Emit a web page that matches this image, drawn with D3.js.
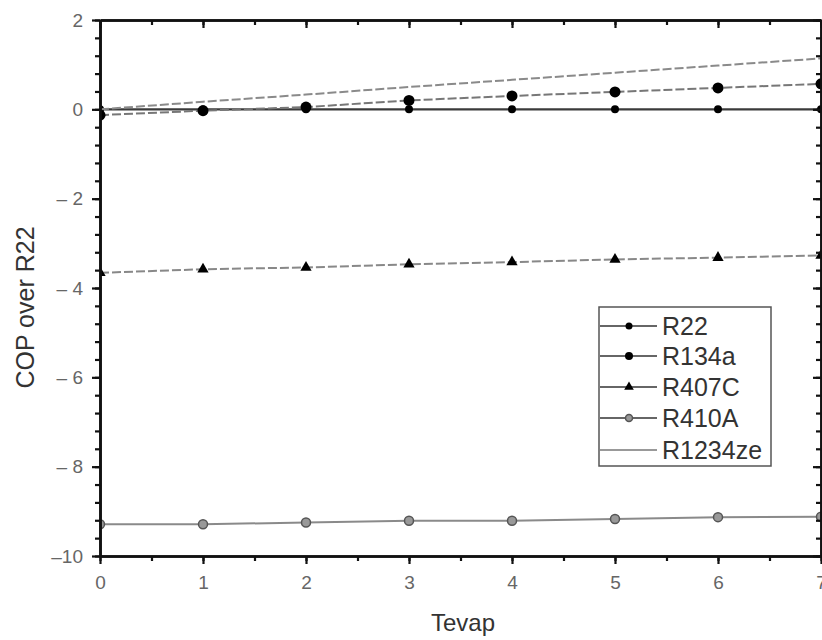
<!DOCTYPE html>
<html>
<head>
<meta charset="utf-8">
<script src="https://cdn.jsdelivr.net/npm/d3@7"></script>
<style>
  body { margin: 0; background: #fff; }
  svg { display: block; font-family: Arial, "Liberation Sans", Helvetica, sans-serif; }
</style>
</head>
<body>
<svg id="chart" width="822" height="640"></svg>
<script>
// ---- data ----
const tevap   = [0, 1, 2, 3, 4, 5, 6, 7];
const r22     = [0, 0, 0, 0, 0, 0, 0, 0];
const r134a   = [-0.13, -0.03, 0.05, 0.2, 0.3, 0.39, 0.48, 0.57];
const r407c   = [-3.66, -3.58, -3.54, -3.47, -3.42, -3.36, -3.32, -3.27];
const r410a   = [-9.29, -9.29, -9.25, -9.21, -9.21, -9.17, -9.13, -9.12];
const r1234ze = [0, 0.17, 0.33, 0.5, 0.66, 0.82, 0.98, 1.14];
const seriesNames = ["R22", "R134a", "R407C", "R410A", "R1234ze"];
const xTicks = [0, 1, 2, 3, 4, 5, 6, 7];
const yTicks = [-10, -8, -6, -4, -2, 0, 2];
const xTitle = "Tevap";
const yTitle = "COP over R22";

const seriesValues = [r22, r134a, r407c, r410a, r1234ze];
const styles = {
  R22:     { stroke: "#3a3a3a", width: 2.2, dash: null,  marker: "circle",   r: 4,   lr: 3.5, fill: "#000", mstroke: "none" },
  R134a:   { stroke: "#777",    width: 2,   dash: "9,3", marker: "circle",   r: 5.5, lr: 4,   fill: "#000", mstroke: "none" },
  R407C:   { stroke: "#888",    width: 2,   dash: "9,3", marker: "triangle", r: 5,   lr: 4,   fill: "#000", mstroke: "none" },
  R410A:   { stroke: "#8a8a8a", width: 2,   dash: null,  marker: "circle",   r: 4.5, lr: 3.5, fill: "#999", mstroke: "#555" },
  R1234ze: { stroke: "#8a8a8a", width: 2,   dash: "9,3", marker: "none",     r: 0,   lr: 0,   fill: "none", mstroke: "none" }
};

const svg = d3.select("#chart");
const W = 822, H = 640;
const L = 100, R = 821, T = 20, B = 556;

const x = d3.scaleLinear().domain([0, 7]).range([L, R]);
const y = d3.scaleLinear().domain([-10, 2]).range([B, T]);

svg.append("rect").attr("width", W).attr("height", H).attr("fill", "#fff");

svg.append("defs").append("clipPath").attr("id", "plotclip")
  .append("rect").attr("x", L).attr("y", T).attr("width", R - L).attr("height", B - T);

// ---- series ----
const plot = svg.append("g").attr("clip-path", "url(#plotclip)");
const line = d3.line().x(d => x(d[0])).y(d => y(d[1]));
const tri = d3.symbol().type(d3.symbolTriangle).size(55);

seriesNames.forEach((name, i) => {
  const st = styles[name];
  const pts = tevap.map((t, j) => [t, seriesValues[i][j]]);
  plot.append("path").datum(pts)
    .attr("d", line)
    .attr("fill", "none")
    .attr("stroke", st.stroke)
    .attr("stroke-width", st.width)
    .attr("stroke-dasharray", st.dash);
  if (st.marker === "circle") {
    plot.selectAll(null).data(pts).enter().append("circle")
      .attr("cx", d => x(d[0])).attr("cy", d => y(d[1])).attr("r", st.r)
      .attr("fill", st.fill).attr("stroke", st.mstroke).attr("stroke-width", 1.5);
  } else if (st.marker === "triangle") {
    plot.selectAll(null).data(pts).enter().append("path")
      .attr("d", tri)
      .attr("transform", d => `translate(${x(d[0])},${y(d[1])})`)
      .attr("fill", st.fill);
  }
});

// ---- axes ----
const xMinor = d3.range(0, 7.001, 0.5);
const yMinor = d3.range(-10, 2.001, 0.4).map(v => +v.toFixed(2));
const fmtY = v => v < 0 ? (Math.abs(v) >= 10 ? "\u2013" + Math.abs(v) : "\u2013 " + Math.abs(v)) : String(v);

function styleAxis(g) {
  g.select(".domain").attr("stroke", "#111").attr("stroke-width", 2.6);
  g.selectAll(".tick line").attr("stroke", "#111").attr("stroke-width", 2.2);
  g.selectAll(".tick text").attr("fill", "#666").attr("font-size", 19);
}

// bottom
svg.append("g").attr("transform", `translate(0,${B})`)
  .call(d3.axisBottom(x).tickValues(xMinor).tickSize(5).tickSizeOuter(0).tickFormat(""))
  .call(styleAxis);
svg.append("g").attr("transform", `translate(0,${B})`)
  .call(d3.axisBottom(x).tickValues(xTicks).tickSize(8).tickSizeOuter(0).tickPadding(12).tickFormat(d3.format("d")))
  .call(styleAxis);
// top (inward ticks)
svg.append("g").attr("transform", `translate(0,${T})`)
  .call(d3.axisTop(x).tickValues(xMinor).tickSize(-5).tickSizeOuter(0).tickFormat(""))
  .call(styleAxis);
svg.append("g").attr("transform", `translate(0,${T})`)
  .call(d3.axisTop(x).tickValues(xTicks).tickSize(-8).tickSizeOuter(0).tickFormat(""))
  .call(styleAxis);
// left
svg.append("g").attr("transform", `translate(${L},0)`)
  .call(d3.axisLeft(y).tickValues(yMinor).tickSize(5).tickSizeOuter(0).tickFormat(""))
  .call(styleAxis);
svg.append("g").attr("transform", `translate(${L},0)`)
  .call(d3.axisLeft(y).tickValues(yTicks).tickSize(8).tickSizeOuter(0).tickPadding(9).tickFormat(fmtY))
  .call(styleAxis);
// right (inward ticks)
svg.append("g").attr("transform", `translate(${R},0)`)
  .call(d3.axisRight(y).tickValues(yMinor).tickSize(-5).tickSizeOuter(0).tickFormat(""))
  .call(styleAxis);
svg.append("g").attr("transform", `translate(${R},0)`)
  .call(d3.axisRight(y).tickValues(yTicks).tickSize(-8).tickSizeOuter(0).tickFormat(""))
  .call(styleAxis);

// ---- titles ----
svg.append("text").attr("x", 463).attr("y", 631).attr("text-anchor", "middle")
  .attr("font-size", 24).attr("fill", "#333").text(xTitle);
svg.append("text").attr("transform", `translate(34,${(222 + 393) / 2}) rotate(-90)`)
  .attr("text-anchor", "middle").attr("font-size", 25).attr("fill", "#333").text(yTitle);

// ---- legend ----
const lg = svg.append("g");
lg.append("rect").attr("x", 599).attr("y", 307).attr("width", 172).attr("height", 159)
  .attr("fill", "#fff").attr("stroke", "#555").attr("stroke-width", 1.5);
const rowY = [326, 356, 387, 418, 450];
seriesNames.forEach((name, i) => {
  const st = styles[name];
  const yy = rowY[i];
  lg.append("line").attr("x1", 600).attr("x2", 657).attr("y1", yy).attr("y2", yy)
    .attr("stroke", name === "R1234ze" ? "#777" : "#333").attr("stroke-width", 1.5);
  if (st.marker === "circle") {
    lg.append("circle").attr("cx", 629).attr("cy", yy).attr("r", st.lr)
      .attr("fill", st.fill).attr("stroke", st.mstroke).attr("stroke-width", 1.5);
  } else if (st.marker === "triangle") {
    lg.append("path").attr("d", d3.symbol().type(d3.symbolTriangle).size(40))
      .attr("transform", `translate(629,${yy})`).attr("fill", st.fill);
  }
  lg.append("text").attr("x", 662).attr("y", yy + 9).attr("font-size", 25)
    .attr("fill", "#333").text(name);
});
</script>
</body>
</html>
